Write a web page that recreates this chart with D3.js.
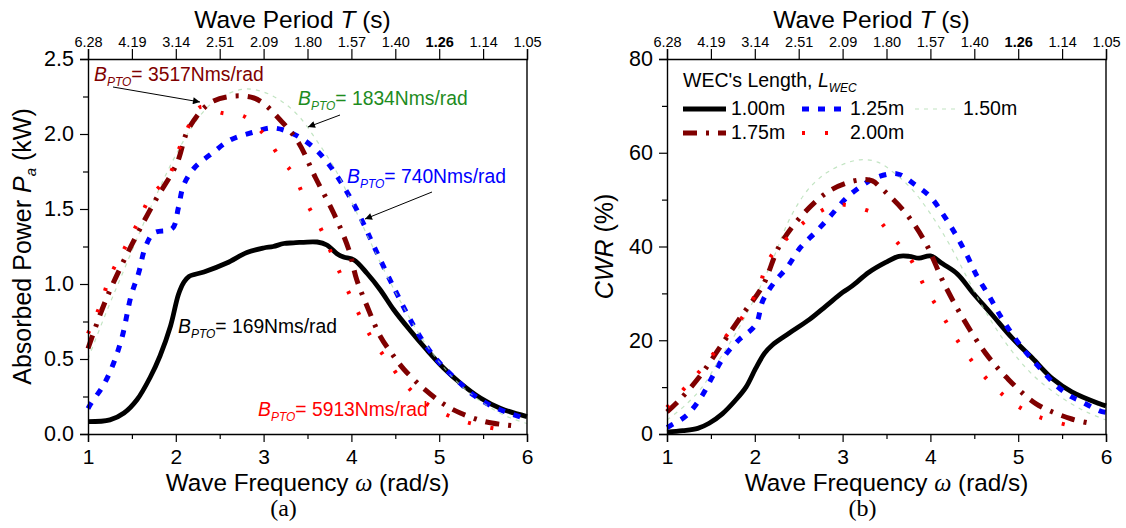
<!DOCTYPE html>
<html>
<head>
<meta charset="utf-8">
<script src="https://cdn.jsdelivr.net/npm/d3@7"></script>
<style>
  body { margin: 0; background: #fff; }
  text { font-family: "Liberation Sans", Arial, sans-serif; }
</style>
</head>
<body>
<script>
var w = 1126;
var h = 528;

// ---- data ----
var majorOmega = [1, 2, 3, 4, 5, 6];
var minorOmega = [1.5, 2.5, 3.5, 4.5, 5.5];
var periodTicks = [1, 1.5, 2, 2.5, 3, 3.5, 4, 4.5, 5, 5.5, 6];
var periodLabels = ["6.28", "4.19", "3.14", "2.51", "2.09", "1.80", "1.57", "1.40", "1.26", "1.14", "1.05"];
var powerTicks = [0, 0.5, 1.0, 1.5, 2.0, 2.5];
var cwrTicks = [0, 20, 40, 60, 80];

// (a) absorbed power, kW  [omega, value]
var power169 = [[1.0,0.082],[1.25,0.094],[1.41,0.14],[1.56,0.23],[1.71,0.38],[1.82,0.52],[1.94,0.72],[2.03,0.93],[2.09,1.01],[2.15,1.05],[2.32,1.08],[2.58,1.14],[2.81,1.21],[3.0,1.24],[3.11,1.25],[3.23,1.27],[3.34,1.274],[3.61,1.28],[3.72,1.26],[3.84,1.20],[3.91,1.18],[4.03,1.16],[4.18,1.07],[4.33,0.96],[4.48,0.83],[4.67,0.69],[4.86,0.56],[5.05,0.44],[5.24,0.34],[5.47,0.24],[5.70,0.17],[6.0,0.116]];
var power740 = [[1.0,0.17],[1.03,0.20],[1.18,0.33],[1.29,0.47],[1.39,0.65],[1.49,0.92],[1.58,1.08],[1.65,1.24],[1.75,1.34],[1.96,1.37],[2.03,1.51],[2.09,1.66],[2.22,1.78],[2.41,1.87],[2.62,1.96],[2.87,2.01],[3.11,2.04],[3.34,2.0],[3.57,1.91],[3.74,1.80],[3.89,1.67],[4.02,1.54],[4.14,1.40],[4.25,1.26],[4.48,0.98],[4.71,0.72],[4.86,0.58],[5.01,0.47],[5.20,0.36],[5.39,0.26],[5.62,0.18],[6.0,0.10]];
var power1834 = [[1.0,0.50],[1.2,0.80],[1.4,1.08],[1.6,1.36],[1.8,1.62],[2.0,1.86],[2.2,2.06],[2.4,2.20],[2.6,2.27],[2.8,2.30],[3.0,2.28],[3.2,2.22],[3.4,2.12],[3.6,1.96],[3.8,1.78],[4.0,1.55],[4.2,1.30],[4.4,1.06],[4.6,0.84],[4.8,0.64],[5.0,0.48],[5.2,0.35],[5.4,0.25],[5.6,0.17],[5.8,0.11],[6.0,0.07]];
var power3517 = [[1.0,0.57],[1.16,0.83],[1.29,1.01],[1.54,1.31],[1.77,1.56],[2.01,1.80],[2.15,2.04],[2.43,2.22],[2.89,2.24],[3.21,2.08],[3.40,1.94],[3.59,1.71],[3.80,1.47],[3.97,1.23],[4.06,1.03],[4.18,0.85],[4.33,0.65],[4.48,0.52],[4.60,0.43],[4.79,0.32],[5.05,0.20],[5.24,0.14],[5.54,0.08],[5.85,0.055]];
var power5913 = [[1.0,0.67],[1.14,0.86],[1.25,1.05],[1.40,1.22],[1.56,1.40],[1.71,1.58],[1.92,1.72],[2.05,1.92],[2.17,2.08],[2.28,2.18],[2.53,2.14],[2.77,2.12],[3.0,2.0],[3.19,1.84],[3.34,1.73],[3.49,1.54],[3.65,1.37],[3.79,1.18],[3.91,1.02],[4.06,0.83],[4.23,0.64],[4.42,0.48],[4.60,0.34],[4.86,0.20],[5.20,0.10],[5.51,0.05],[5.70,0.03]];

// (b) capture width ratio, %
var cwr100 = [[1.0,0.4],[1.18,0.7],[1.35,1.2],[1.48,2.3],[1.63,4.3],[1.78,7.2],[1.90,10.0],[2.01,14.0],[2.11,17.2],[2.20,19.0],[2.39,21.5],[2.62,24.4],[2.81,27.3],[3.0,30.2],[3.11,31.6],[3.30,34.5],[3.49,36.6],[3.64,37.9],[3.76,37.9],[3.87,37.5],[4.0,38.0],[4.14,36.3],[4.31,34.1],[4.48,30.2],[4.70,25.5],[4.93,20.5],[5.16,16.2],[5.39,11.8],[5.61,9.0],[5.92,6.5],[6.0,6.0]];
var cwr125 = [[1.0,1.4],[1.04,1.8],[1.22,3.9],[1.39,7.9],[1.52,12.3],[1.65,16.5],[1.82,20.1],[2.01,23.3],[2.09,28.4],[2.22,32.3],[2.37,35.6],[2.52,39.8],[2.70,43.2],[2.87,46.7],[3.04,50.3],[3.23,53.1],[3.38,54.7],[3.62,55.5],[3.83,53.1],[4.0,50.6],[4.15,46.7],[4.29,42.5],[4.42,38.0],[4.53,33.7],[4.67,29.4],[4.80,25.1],[4.95,20.8],[5.08,17.6],[5.25,14.0],[5.43,10.4],[5.61,7.9],[5.69,7.2],[5.92,5.0],[6.0,4.6]];
var cwr150 = [[1.0,3],[1.2,6],[1.4,10],[1.6,16],[1.8,22],[2.0,29],[2.2,37],[2.4,46],[2.6,52],[2.8,55.5],[3.0,57.5],[3.2,58.5],[3.4,58],[3.6,55.5],[3.8,52],[4.0,47],[4.2,41],[4.4,34],[4.6,27],[4.8,21],[5.0,16],[5.2,12],[5.4,9],[5.6,6.5],[5.8,4.5],[6.0,3]];
var cwr175 = [[1.0,4.7],[1.14,7.2],[1.37,12.2],[1.61,18.7],[1.86,25.5],[2.09,31.6],[2.28,40.1],[2.54,46.7],[2.87,52.1],[3.19,54.2],[3.34,54.0],[3.42,52.8],[3.72,47.1],[3.95,40.6],[4.15,32.3],[4.38,24.4],[4.63,17.2],[4.86,12.2],[5.20,6.5],[5.61,3.2],[5.85,2.2]];
var cwr200 = [[1.0,5.7],[1.23,10.4],[1.46,15.4],[1.67,20.8],[1.88,25.5],[2.05,31.6],[2.16,37.2],[2.37,41.8],[2.62,46.0],[2.94,48.9],[3.26,47.8],[3.34,47.1],[3.55,42.5],[3.78,37.1],[3.93,31.6],[4.12,25.8],[4.29,20.5],[4.48,15.4],[4.69,10.8],[4.95,6.5],[5.24,3.6],[5.59,1.8],[5.70,1.4]];

var lengthNames = ["1.00m", "1.25m", "1.50m", "1.75m", "2.00m"];

// line styles, same order as lengthNames
var styles = [
  {color: "#000000", width: 4.8, dash: null, opacity: 1},
  {color: "#0000ff", width: 5, dash: "7 9", opacity: 1},
  {color: "#a8d8a8", width: 1.2, dash: "4 5", opacity: 0.7},
  {color: "#800000", width: 5, dash: "14 9 3 9", opacity: 1},
  {color: "#ff0000", width: 4, dash: "3 20", opacity: 1}
];

var pw = 439, ph = 375;

var svg = d3.select("body")
  .append("svg")
  .attr("width", w)
  .attr("height", h);

svg.append("defs").append("marker")
  .attr("id", "arrow")
  .attr("viewBox", "0 0 10 10")
  .attr("refX", 10).attr("refY", 5)
  .attr("markerWidth", 9).attr("markerHeight", 7)
  .attr("markerUnits", "userSpaceOnUse")
  .attr("orient", "auto")
  .append("path")
  .attr("d", "M0,0 L10,5 L0,10 z")
  .attr("fill", "#000");

function panel(left, yDomain, yTicks, yMinor, yFormat, series, yTitle, tag) {
  var g = svg.append("g").attr("transform", "translate(" + left + ",59)");
  var x = d3.scaleLinear().domain([1, 6]).range([0, pw]);
  var y = d3.scaleLinear().domain(yDomain).range([ph, 0]);

  var line = d3.line()
    .x(function(d) { return x(d[0]); })
    .y(function(d) { return y(d[1]); })
    .curve(d3.curveCatmullRom.alpha(0.5));

  // curves
  g.selectAll("path.curve")
    .data(series)
    .enter().append("path")
    .attr("class", "curve")
    .attr("d", function(d) { return line(d); })
    .attr("fill", "none")
    .attr("stroke", function(d, i) { return styles[i].color; })
    .attr("stroke-width", function(d, i) { return styles[i].width; })
    .attr("stroke-dasharray", function(d, i) { return styles[i].dash; })
    .attr("stroke-opacity", function(d, i) { return styles[i].opacity; })
    .attr("stroke-linejoin", "round");

  // bottom axis
  var bx = g.append("g").attr("transform", "translate(0," + ph + ")")
    .call(d3.axisBottom(x).tickValues(majorOmega).tickSize(8).tickPadding(7).tickFormat(d3.format("d")));
  bx.selectAll("text").attr("font-size", 21).attr("font-family", "Liberation Sans");
  var bm = g.append("g").attr("transform", "translate(0," + ph + ")")
    .call(d3.axisBottom(x).tickValues(minorOmega).tickSize(5).tickFormat(""));
  bm.select(".domain").remove();

  // top axis: period labels
  var tx = g.append("g")
    .call(d3.axisTop(x).tickValues(periodTicks).tickSize(10).tickPadding(2)
      .tickFormat(function(d, i) { return periodLabels[i]; }));
  tx.selectAll("text").attr("font-size", 14.5).attr("font-family", "Liberation Sans")
    .attr("font-weight", function(d, i) { return periodLabels[i] == "1.26" ? "bold" : "normal"; });

  // left axis
  var ly = g.append("g")
    .call(d3.axisLeft(y).tickValues(yTicks).tickSize(8).tickPadding(6).tickFormat(yFormat));
  ly.selectAll("text").attr("font-size", 21.5).attr("font-family", "Liberation Sans");
  var lm = g.append("g")
    .call(d3.axisLeft(y).tickValues(yMinor).tickSize(5).tickFormat(""));
  lm.select(".domain").remove();

  g.selectAll(".domain").attr("stroke-width", 1.4);
  g.selectAll(".tick line").attr("stroke-width", 1.2);

  // right frame
  g.append("line").attr("x1", pw).attr("x2", pw).attr("y1", 0).attr("y2", ph)
    .attr("stroke", "#000").attr("stroke-width", 1.4);

  // titles
  var top = g.append("text").attr("x", pw / 2 - 15).attr("y", -31)
    .attr("text-anchor", "middle").attr("font-size", 24.5);
  top.append("tspan").text("Wave Period ");
  top.append("tspan").attr("font-style", "italic").text("T");
  top.append("tspan").text(" (s)");

  var bt = g.append("text").attr("x", pw / 2).attr("y", ph + 57)
    .attr("text-anchor", "middle").attr("font-size", 24.3);
  bt.append("tspan").text("Wave Frequency ");
  bt.append("tspan").attr("font-family", "Liberation Serif").attr("font-style", "italic").text("ω");
  bt.append("tspan").text(" (rad/s)");

  g.append("text").attr("x", pw / 2 - 24).attr("y", ph + 82)
    .attr("text-anchor", "middle").attr("font-size", 24)
    .style("font-family", "Liberation Serif")
    .text(tag);

  var yt = g.append("text")
    .attr("transform", "translate(" + yTitle.x + "," + ph / 2 + ") rotate(-90)")
    .attr("text-anchor", "middle").attr("font-size", 25);
  yTitle.parts.forEach(function(p) {
    var t = yt.append("tspan").text(p.t);
    if (p.italic) t.attr("font-style", "italic");
    if (p.sub) t.attr("font-size", 15).attr("dy", 5);
    if (p.up) t.attr("dy", -5);
  });

  return {g: g, x: x, y: y};
}

var a = panel(88, [0, 2.5], powerTicks, [0.25, 0.75, 1.25, 1.75, 2.25], d3.format(".1f"),
  [power169, power740, power1834, power3517, power5913],
  {x: -57, parts: [{t: "Absorbed Power "}, {t: "P", italic: true}, {t: "a", italic: true, sub: true}, {t: " (kW)", up: true}]},
  "(a)");

var b = panel(667, [0, 80], cwrTicks, [10, 30, 50, 70], d3.format("d"),
  [cwr100, cwr125, cwr150, cwr175, cwr200],
  {x: -54, parts: [{t: "CWR", italic: true}, {t: " (%)"}]},
  "(b)");

// B_PTO annotations in panel (a)
var bLabels = [
  {v: "3517", color: "#800000", x: 6, y: 22},
  {v: "1834", color: "#1e8c1e", x: 210, y: 46},
  {v: "740", color: "#0000ff", x: 259, y: 124},
  {v: "169", color: "#000000", x: 90, y: 274},
  {v: "5913", color: "#ff0000", x: 170, y: 357}
];
bLabels.forEach(function(d) {
  var t = a.g.append("text").attr("x", d.x).attr("y", d.y)
    .attr("fill", d.color).attr("font-size", 19.3);
  t.append("tspan").attr("font-style", "italic").text("B");
  t.append("tspan").attr("font-style", "italic").attr("font-size", 12).attr("dy", 5).text("PTO");
  t.append("tspan").attr("dy", -5).text("= " + d.v + "Nms/rad");
});

var arrows = [
  [[25, 28], [112, 43]],
  [[252, 56], [220, 68]],
  [[344, 133], [277, 160]]
];
arrows.forEach(function(d) {
  a.g.append("line")
    .attr("x1", d[0][0]).attr("y1", d[0][1])
    .attr("x2", d[1][0]).attr("y2", d[1][1])
    .attr("stroke", "#000").attr("stroke-width", 1)
    .attr("marker-end", "url(#arrow)");
});

// legend in panel (b)
var lg = b.g.append("g").attr("transform", "translate(16,28)");
var lt = lg.append("text").attr("x", 0).attr("y", 0).attr("font-size", 19.5);
lt.append("tspan").text("WEC's Length, ");
lt.append("tspan").attr("font-style", "italic").text("L");
lt.append("tspan").attr("font-style", "italic").attr("font-size", 12).attr("dy", 5).text("WEC");

var legendPos = [[0, 28], [119, 28], [232, 28], [0, 52], [119, 52]];
lengthNames.forEach(function(name, i) {
  var p = legendPos[i];
  var s = styles[i];
  lg.append("line")
    .attr("x1", p[0]).attr("x2", p[0] + 43)
    .attr("y1", p[1] - 6).attr("y2", p[1] - 6)
    .attr("stroke", s.color).attr("stroke-width", s.width)
    .attr("stroke-dasharray", s.dash).attr("stroke-opacity", s.opacity);
  lg.append("text").attr("x", p[0] + 48).attr("y", p[1])
    .attr("font-size", 19.5).text(name);
});
</script>
</body>
</html>
